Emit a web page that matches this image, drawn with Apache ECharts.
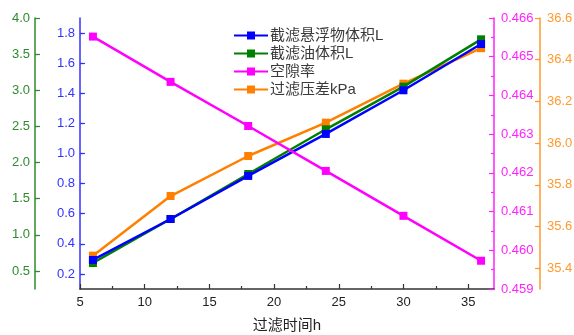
<!DOCTYPE html>
<html><head><meta charset="utf-8">
<script src="https://cdn.jsdelivr.net/npm/echarts@6/dist/echarts.min.js"></script>
<style>html,body{margin:0;padding:0;background:#fff}#c{width:574px;height:335px}</style>
</head><body><div id="c"></div>
<script>
const times = [6, 12, 18, 24, 30, 36];
const suspended = [0.293, 0.565, 0.851, 1.13, 1.42, 1.727];
const oil = [0.61, 1.219, 1.841, 2.46, 3.05, 3.705];
const porosity = [0.46552, 0.46435, 0.46321, 0.46205, 0.46089, 0.45973];
const pressure = [35.46, 35.746, 35.938, 36.098, 36.285, 36.455];
const names = ['截滤悬浮物体积L', '截滤油体积L', '空隙率', '过滤压差kPa'];
const xTicks = [5, 10, 15, 20, 25, 30, 35];
const blueTicks = [0.2, 0.4, 0.6, 0.8, 1.0, 1.2, 1.4, 1.6, 1.8];
const greenTicks = [0.5, 1.0, 1.5, 2.0, 2.5, 3.0, 3.5, 4.0];
const magTicks = [0.459, 0.460, 0.461, 0.462, 0.463, 0.464, 0.465, 0.466];
const orangeTicks = [35.4, 35.6, 35.8, 36.0, 36.2, 36.4, 36.6];

const FF = '"Liberation Sans", Arial, "Noto Sans CJK SC", sans-serif';
const cBlue = '#0000ff', cGreen = '#008000', cMag = '#ff00ff', cOrange = '#ff8000';
const aBlue = '#3333ff', aGreen = '#2e8b2e', aMag = '#ff22ff', aOrange = '#ff9a2e';

function yAx(o) {
  return {
    type: 'value', position: o.pos, offset: o.offset, min: o.min, max: o.max, interval: o.interval,
    axisLine: {show: true, onZero: false, lineStyle: {color: o.color, width: 1.5}},
    axisTick: {show: true, inside: true, length: 5, customValues: o.ticks, lineStyle: {color: o.color, width: 1.2}},
    minorTick: {show: true, splitNumber: 2, length: 3, lineStyle: {color: o.color, width: 1.2}},
    axisLabel: {customValues: o.ticks, color: o.color, fontSize: 13, fontFamily: FF, margin: o.margin,
      formatter: v => v.toFixed(o.dec)},
    splitLine: {show: false}
  };
}

const chart = echarts.init(document.getElementById('c'));
chart.setOption({
  animation: false,
  backgroundColor: '#fff',
  grid: {left: 80, right: 80, top: 18, bottom: 46, containLabel: false, outerBoundsMode: 'none'},
  legend: {
    orient: 'vertical', left: 228, top: 23, itemWidth: 34, itemHeight: 10, itemGap: 3,
    data: names,
    textStyle: {fontSize: 15, fontFamily: FF, color: '#3a3a3a', padding: [0, 0, 0, -3]}
  },
  xAxis: {
    type: 'value', min: 5, max: 37, interval: 5,
    name: '过滤时间h', nameLocation: 'middle', nameGap: 29,
    nameTextStyle: {fontSize: 15, fontFamily: FF, color: '#222'},
    axisLine: {onZero: false, lineStyle: {color: '#333', width: 1.5}},
    axisTick: {inside: true, length: 5, customValues: xTicks, lineStyle: {color: '#333', width: 1.2}},
    minorTick: {show: true, splitNumber: 2, length: 3, lineStyle: {color: '#333', width: 1.2}},
    axisLabel: {customValues: xTicks, color: '#222', fontSize: 13, fontFamily: FF, margin: 7},
    splitLine: {show: false}
  },
  yAxis: [
    yAx({pos: 'left', offset: 0, min: 0.1, max: 1.9, interval: 0.2, ticks: blueTicks, color: aBlue, margin: 5, dec: 1}),
    yAx({pos: 'left', offset: 45, min: 0.25, max: 4.0, interval: 0.5, ticks: greenTicks, color: aGreen, margin: 5, dec: 1}),
    yAx({pos: 'right', offset: 0, min: 0.459, max: 0.466, interval: 0.001, ticks: magTicks, color: aMag, margin: 7, dec: 3}),
    yAx({pos: 'right', offset: 46, min: 35.3, max: 36.6, interval: 0.2, ticks: orangeTicks, color: aOrange, margin: 7, dec: 1})
  ],
  series: [
    {name: names[0], type: 'line', yAxisIndex: 0, data: times.map((t, i) => [t, suspended[i]]),
     color: cBlue, symbol: 'rect', symbolSize: 8, lineStyle: {width: 2.5}, z: 3},
    {name: names[1], type: 'line', yAxisIndex: 1, data: times.map((t, i) => [t, oil[i]]),
     color: cGreen, symbol: 'rect', symbolSize: 8, lineStyle: {width: 2.5}, z: 2},
    {name: names[2], type: 'line', yAxisIndex: 2, data: times.map((t, i) => [t, porosity[i]]),
     color: cMag, symbol: 'rect', symbolSize: 8, lineStyle: {width: 2.5}, z: 4},
    {name: names[3], type: 'line', yAxisIndex: 3, data: times.map((t, i) => [t, pressure[i]]),
     color: cOrange, symbol: 'rect', symbolSize: 8, lineStyle: {width: 2.5}, z: 1}
  ]
});
</script></body></html>
